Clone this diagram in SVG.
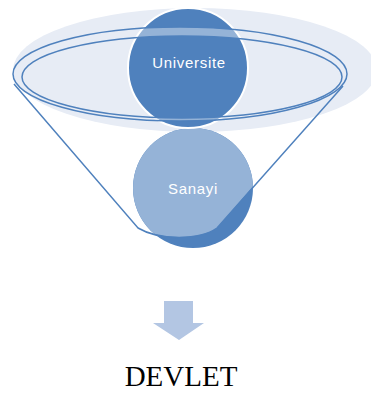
<svg xmlns="http://www.w3.org/2000/svg" width="371" height="396" viewBox="0 0 371 396">
<style>
.lbl{font-family:"Liberation Sans",Arial,sans-serif;font-size:15px;fill:#ffffff;text-anchor:middle;letter-spacing:0.7px}
.ln{fill:none;stroke:#4f81bd;stroke-width:1.5}
</style>
<defs>
<clipPath id="funnelClip"><path d="M13,80 L138,228 C160,240 200,240 217,228 L345,80 Z"/></clipPath>
<mask id="ringMask">
<rect width="371" height="396" fill="black"/>
<ellipse cx="180" cy="74" rx="167" ry="47" fill="white"/>
<ellipse cx="182" cy="77" rx="160" ry="41" fill="black"/>
</mask>
</defs>
<rect width="371" height="396" fill="#ffffff"/>
<ellipse id="bg" cx="195" cy="70" rx="182" ry="62" fill="#e7ecf5"/>
<g id="node-sanayi">
<circle cx="193" cy="188" r="60" fill="#4f81bd"/>
<circle cx="193" cy="188" r="60" fill="#95b3d7" clip-path="url(#funnelClip)"/>
<text class="lbl" x="193" y="194">Sanayi</text>
</g>
<g id="node-universite">
<circle cx="188" cy="68" r="60" fill="#4f81bd" stroke="#ffffff" stroke-width="2"/>
<circle cx="188" cy="68" r="60" fill="#ffffff" fill-opacity="0.4" mask="url(#ringMask)"/>
<text class="lbl" x="189" y="68">Universite</text>
</g>
<g id="connectors">
<ellipse class="ln" cx="180" cy="74" rx="167" ry="47"/>
<ellipse class="ln" cx="182" cy="77" rx="160" ry="41"/>
<path class="ln" d="M14,84 L138,228 C160,241 200,240 217,228 L343,86"/>
</g>
<g id="arrow">
<polygon points="164,301 193,301 193,323 204,323 179,340 153,323 164,323" fill="#b3c6e3"/>
</g>
<g id="node-devlet">
<text x="181" y="386" font-family="'Liberation Serif','Times New Roman',serif" font-size="29" fill="#000000" text-anchor="middle">DEVLET</text>
</g>
</svg>
